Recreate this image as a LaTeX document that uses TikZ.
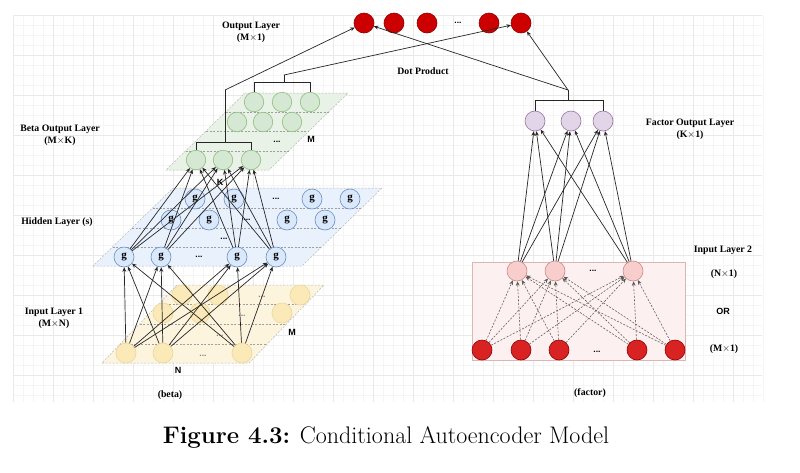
\documentclass[tikz,border=0pt]{standalone}
\usepackage{fontspec}
\newfontfamily\tnr{Liberation Serif}
\newfontfamily\arl{Liberation Sans}
\usetikzlibrary{arrows.meta}
\definecolor{gridmin}{HTML}{F5F5F5}
\definecolor{gridmaj}{HTML}{E9E9E9}
\definecolor{outF}{HTML}{CC0000}
\definecolor{outD}{HTML}{8E0000}
\definecolor{redF}{HTML}{D92222}
\definecolor{redD}{HTML}{8E0000}
\definecolor{pinkF}{HTML}{F8CECC}
\definecolor{pinkD}{HTML}{C98A88}
\definecolor{pinkBox}{HTML}{FCF0F0}
\definecolor{pinkBoxD}{HTML}{DDB5B5}
\definecolor{purF}{HTML}{E1D5E7}
\definecolor{purD}{HTML}{9673A6}
\definecolor{grnF}{HTML}{D5E8D4}
\definecolor{grnD}{HTML}{93BC7E}
\definecolor{grnP}{HTML}{E9F2E6}
\definecolor{bluF}{HTML}{DAE8FC}
\definecolor{bluD}{HTML}{6C8EBF}
\definecolor{bluP}{HTML}{E9F1FC}
\definecolor{yelF}{HTML}{FCE9B8}
\definecolor{yelD}{HTML}{EBD79A}
\definecolor{yelP}{HTML}{FDF4DE}
\begin{document}
\begin{tikzpicture}[x=1pt,y=-1pt,
  lbl/.style={font=\tnr\bfseries\fontsize{9.8}{11}\selectfont, align=center, inner sep=0pt},
  slbl/.style={font=\arl\bfseries\fontsize{9}{10}\selectfont, inner sep=0pt},
  ell/.style={font=\arl\bfseries\fontsize{8.5}{9}\selectfont, inner sep=0pt},
  neuron/.style={circle, minimum size=20pt, inner sep=0pt, line width=0.6pt},
  outn/.style={neuron, fill=outF, draw=outD},
  redn/.style={neuron, fill=redF, draw=redD},
  pinkn/.style={neuron, fill=pinkF, draw=pinkD},
  purn/.style={neuron, fill=purF, draw=purD},
  grnn/.style={neuron, minimum size=19.5pt, fill=grnF, draw=grnD},
  gnode/.style={neuron, fill=bluF, draw=bluD, font=\tnr\bfseries\fontsize{11}{12}\selectfont},
  yeln/.style={neuron, fill=yelF, draw=yelD},
  plane/.style={draw=gray!55, dashed, dash pattern=on 2pt off 1.5pt, line width=0.5pt},
  pline/.style={draw=gray!75, dashed, dash pattern=on 2pt off 1.5pt, line width=0.5pt},
  conn/.style={line width=0.7pt, draw=black!85, -{Stealth[length=4.5pt,width=3.8pt]}},
  dconn/.style={conn, line width=0.55pt, draw=gray!70!black, dashed, dash pattern=on 2pt off 1.5pt},
  brk/.style={line width=0.75pt, draw=black!85}
]
\fill[white] (0,0) rectangle (800,472);
\useasboundingbox (0,0) rectangle (800,472);
% grid
\foreach \x in {13,23,...,763} \draw[gridmin, line width=0.4pt] (\x,15) -- (\x,402);
\foreach \y in {15,25,...,402} \draw[gridmin, line width=0.4pt] (13,\y) -- (762,\y);
\foreach \x in {13,53,...,763} \draw[gridmaj, line width=0.4pt] (\x,15) -- (\x,402);
\foreach \y in {15,55,...,402} \draw[gridmaj, line width=0.4pt] (13,\y) -- (762,\y);

% ---------- planes ----------
\path[plane, fill=yelP] (102,363) -- (249,363) -- (324,285) -- (177,285) -- cycle;
\draw[pline] (158.7,304) -- (305.7,304);
\draw[pline] (139.5,324) -- (286.5,324);
\draw[pline] (120.3,344) -- (267.3,344);

\path[plane, fill=bluP] (93,266) -- (302,266) -- (382,188) -- (173,188) -- cycle;
\draw[pline] (152.5,208) -- (361.5,208);
\draw[pline] (132,228) -- (341,228);
\draw[pline] (112.5,247) -- (321.5,247);

\path[plane, fill=grnP] (166,170) -- (269,170) -- (348,93) -- (245,93) -- cycle;
\draw[pline] (225.5,112) -- (328.5,112);
\draw[pline] (206,131) -- (309,131);
\draw[pline] (185.5,151) -- (288.5,151);

\path[draw=pinkBoxD, fill=pinkBox, line width=0.6pt] (472,262) rectangle (685,360);

% ---------- input layer 1 (yellow) ----------
\node[yeln] (ya1) at (182,295) {};
\node[yeln] (ya2) at (218,295) {};
\node[yeln] (ya3) at (300,295) {};
\node[ell, gray] (yad) at (262,297) {...};
\node[yeln] (yb1) at (163,313) {};
\node[yeln] (yb2) at (200,313) {};
\node[yeln] (yb3) at (282,313) {};
\node[ell, gray] (ybd) at (242,316) {...};
\node[ell, gray] (ycd) at (220,336) {...};
\node[yeln] (y1) at (126,353) {};
\node[yeln] (y2) at (163,353) {};
\node[yeln] (y3) at (242,353) {};
\node[ell, gray] (ydd) at (203,356) {...};

% ---------- hidden layers (blue) ----------
\node[gnode] (ha1) at (195,199) {g};
\node[gnode] (ha2) at (234,199) {g};
\node[gnode] (ha3) at (312,199) {g};
\node[gnode] (ha4) at (350,199) {g};
\node[ell] (had) at (276,199) {...};
\node[gnode] (hb1) at (171,220) {g};
\node[gnode] (hb2) at (209,220) {g};
\node[gnode] (hb3) at (287,220) {g};
\node[gnode] (hb4) at (325,220) {g};
\node[ell] (hbd) at (247,220) {...};
\node[ell] (hcd) at (224,239) {...};
\node[gnode] (h1) at (124,257) {g};
\node[gnode] (h2) at (161,257) {g};
\node[gnode] (h3) at (237,257) {g};
\node[gnode] (h4) at (276,257) {g};
\node[ell] (hdd) at (199,257) {...};

% ---------- beta output (green) ----------
\node[grnn] (gt1) at (254,102) {};
\node[grnn] (gt2) at (282,102) {};
\node[grnn] (gt3) at (310,102) {};
\node[grnn] (gm1) at (237,122) {};
\node[grnn] (gm2) at (263,122) {};
\node[grnn] (gm3) at (292,122) {};
\node[ell] (gmd) at (277,142) {...};
\node[grnn] (gb1) at (196,160) {};
\node[grnn] (gb2) at (223,160) {};
\node[grnn] (gb3) at (251,160) {};

% ---------- output layer ----------
\node[outn] (o1) at (364,23) {};
\node[outn] (o2) at (394,23) {};
\node[outn] (o3) at (427,23) {};
\node[ell] (od) at (458,23) {...};
\node[outn] (o5) at (489,23) {};
\node[outn] (o6) at (521,23) {};

% ---------- factor side ----------
\node[purn] (f1) at (535,121) {};
\node[purn] (f2) at (571,121) {};
\node[purn] (f3) at (603,121) {};

\node[pinkn] (p1) at (517,271) {};
\node[pinkn] (p2) at (555,271) {};
\node[pinkn] (p3) at (633,271) {};
\node[ell] (pd) at (593,271) {...};

\node[redn] (r1) at (482,350) {};
\node[redn] (r2) at (521,350) {};
\node[redn] (r3) at (559,350) {};
\node[redn] (r4) at (637,350) {};
\node[redn] (r5) at (675,350) {};
\node[ell] (rd) at (597,352) {...};

% ---------- connections ----------
\foreach \a in {y1,y2,y3}
  \foreach \b in {h1,h2,h3,h4}
    \draw[conn] (\a) -- (\b);
\foreach \a in {h1,h2,h3,h4}
  \foreach \b in {gb1,gb2,gb3}
    \draw[conn] (\a) -- (\b);
\foreach \a in {p1,p2,p3}
  \foreach \b in {f1,f2,f3}
    \draw[conn] (\a) -- (\b);
\foreach \a in {r1,r2,r3,r4,r5}
  \foreach \b in {p1,p2,p3}
    \draw[dconn] (\a) -- (\b);

% brackets
\coordinate (bkA) at (225,142);
\coordinate (rA) at (225,90);
\draw[brk] (gb1.north) -- (gb1.north |- bkA) -- (gb3.north |- bkA) -- (gb3.north);
\draw[brk] (bkA) -- (rA);
\draw[conn] (rA) -- (o1);

\coordinate (bkB) at (284,82);
\coordinate (rB) at (284,75);
\draw[brk] (gt1.north) -- (gt1.north |- bkB) -- (gt3.north |- bkB) -- (gt3.north);
\draw[brk] (bkB) -- (rB);
\draw[conn] (rB) -- (o6);

\coordinate (bkC) at (568,100);
\coordinate (rC) at (568,90);
\draw[brk] (f1.north) -- (f1.north |- bkC) -- (f3.north |- bkC) -- (f3.north);
\draw[brk] (bkC) -- (rC);
\draw[conn] (rC) -- (o1);
\draw[conn] (rC) -- (o6);

% ---------- labels ----------
\node[lbl] (tOut) at (251,32) {Output Layer\\[1pt](M$\times$1)};
\node[lbl] (tDot) at (423,71) {Dot Product};
\node[lbl] (tBeta) at (60,135) {Beta Output Layer\\[1pt](M$\times$K)};
\node[lbl] (tHid) at (57,222) {Hidden Layer (s)};
\node[lbl] (tIn1) at (54,318) {Input Layer 1\\[1pt](M$\times$N)};
\node[lbl] (tBetaC) at (170,395) {(beta)};
\node[lbl] (tFac) at (690,129) {Factor Output Layer\\[1pt](K$\times$1)};
\node[lbl] (tIn2) at (723,250) {Input Layer 2};
\node[lbl] (tN1) at (724,274) {(N$\times$1)};
\node[lbl] (tM1) at (724,349) {(M$\times$1)};
\node[lbl] (tFacC) at (590,393) {(factor)};
\node[slbl] (tOR) at (723,311) {OR};
\node[slbl] (tMg) at (311,139) {M};
\node[slbl] (tK) at (220,182) {K};
\node[slbl] (tMy) at (292,332) {M};
\node[slbl] (tN) at (178,370) {N};

\node[font=\fontsize{24}{28}\selectfont, inner sep=0pt] (cap) at (386,437) {\textbf{Figure 4.3:} Conditional Autoencoder Model};
\end{tikzpicture}
\end{document}
